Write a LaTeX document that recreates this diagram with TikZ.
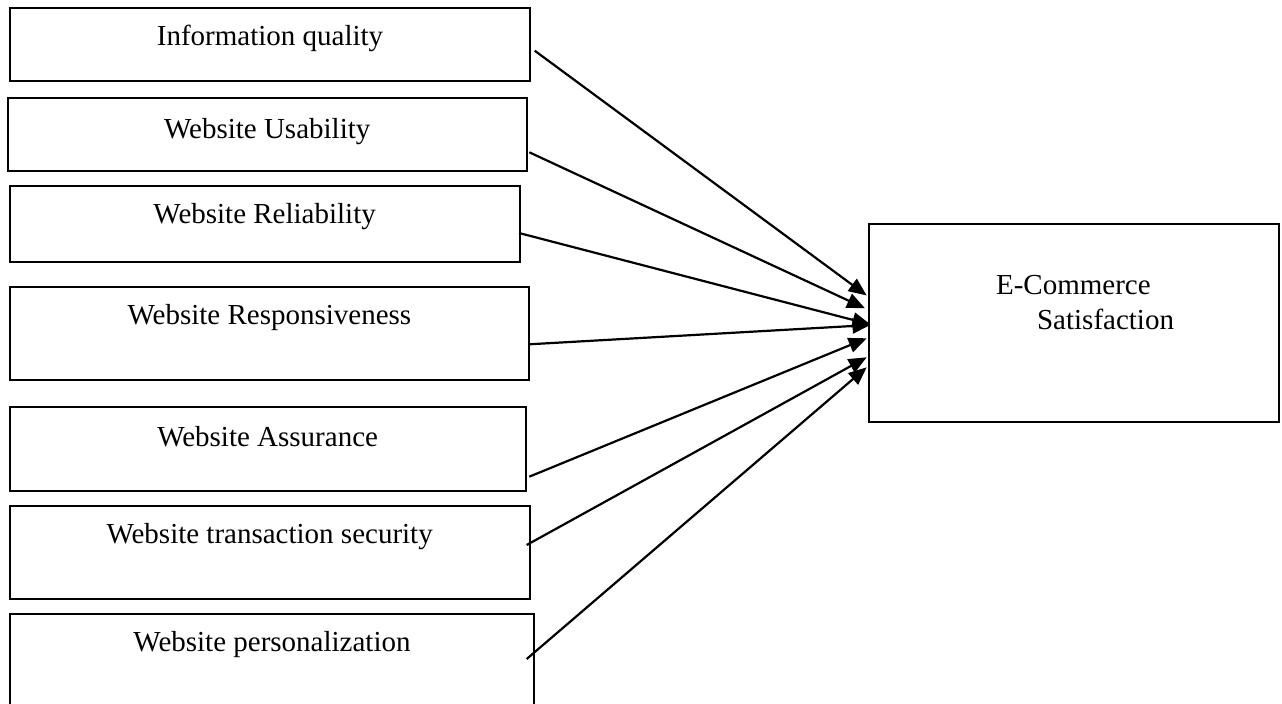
\documentclass[tikz,border=0pt]{standalone}
\usepackage{fontspec}
\setmainfont{Liberation Serif}
\usetikzlibrary{arrows.meta,calc}
\begin{document}
\begin{tikzpicture}[x=0.5pt,y=-0.5pt,
  box/.style={draw=black,line width=1pt,rectangle,inner sep=0pt,fill=none},
  lbl/.style={anchor=base,inner sep=0pt,font=\fontsize{14.5}{17}\selectfont},
  conn/.style={draw=black,line width=1.1pt,-{Triangle[length=9pt,width=7.5pt]}}]
\useasboundingbox[fill=white] (0,0) rectangle (1282,704);
% boxes
\node[box,minimum width=260pt,minimum height=36.75pt] (b1) at (270,44.75) {};
\node[box,minimum width=259.75pt,minimum height=36.8pt] (b2) at (267.25,134.5) {};
\node[box,minimum width=255pt,minimum height=38.3pt] (b3) at (264.65,224) {};
\node[box,minimum width=259.85pt,minimum height=46.65pt] (b4) at (269.45,333.65) {};
\node[box,minimum width=258pt,minimum height=41.75pt] (b5) at (267.65,449.25) {};
\node[box,minimum width=260pt,minimum height=46.65pt] (b6) at (269.65,552.65) {};
\node[box,minimum width=262.35pt,minimum height=50pt] (b7) at (272,664) {};
\node[box,minimum width=205.4pt,minimum height=99.4pt] (e) at (1073.9,323.1) {};
% labels
\node[lbl] (t1) at ($(b1.north)+(0,38.5)$) {Information quality};
\node[lbl] (t2) at ($(b2.north)+(0,41.5)$) {Website Usability};
\node[lbl] (t3) at ($(b3.north)+(0,39)$) {Website Reliability};
\node[lbl] (t4) at ($(b4.north)+(0,39)$) {Website Responsiveness};
\node[lbl] (t5) at ($(b5.north)+(0,40)$) {Website Assurance};
\node[lbl] (t6) at ($(b6.north)+(0,39)$) {Website transaction security};
\node[lbl] (t7) at ($(b7.north)+(0,39)$) {Website personalization};
\node[lbl,anchor=base west] (te1) at (995.7,295) {E-Commerce};
\node[lbl,anchor=base west] (te2) at (1036.7,330) {Satisfaction};
% connector ends
\coordinate (s1) at (534.7,50.7);
\coordinate (s2) at (529.3,152.3);
\coordinate (s3) at (519,233);
\coordinate (s4) at (529.3,344.3);
\coordinate (s5) at (529.3,476.7);
\coordinate (s6) at (526.7,545);
\coordinate (s7) at (526.7,659);
\coordinate (e1) at (866.7,295.5);
\coordinate (e2) at (865,308.3);
\coordinate (e3) at (870.5,324.5);
\coordinate (e4) at (870.5,325);
\coordinate (e5) at (866.7,338.3);
\coordinate (e6) at (866.7,357.3);
\coordinate (e7) at (866.7,367.3);
\foreach \i in {1,...,7} {\draw[conn] (s\i) -- (e\i);}
\end{tikzpicture}
\end{document}
